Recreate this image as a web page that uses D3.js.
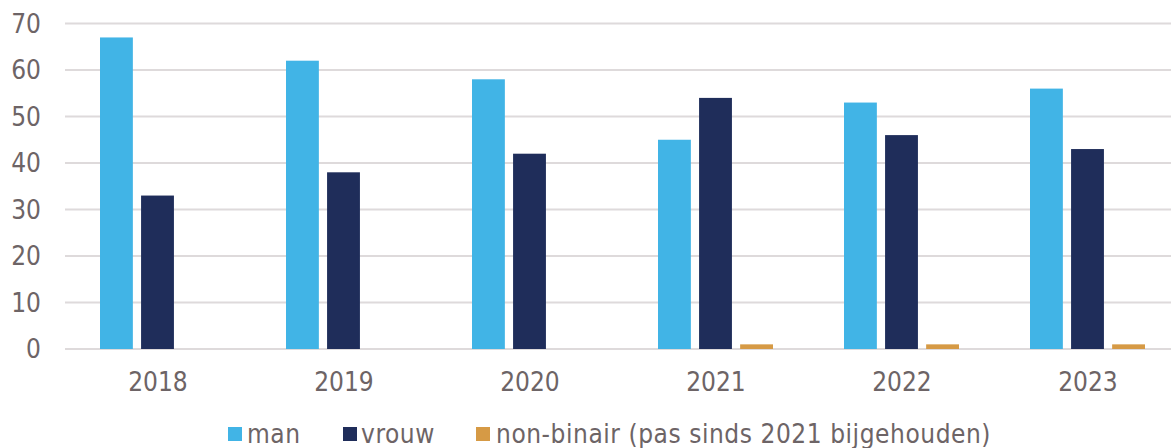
<!DOCTYPE html>
<html>
<head>
<meta charset="utf-8">
<script src="https://cdn.jsdelivr.net/npm/d3@7"></script>
<style>
  html, body { margin: 0; padding: 0; background: #fff; }
  svg { display: block; font-family: "DejaVu Sans Condensed", "DejaVu Sans", Verdana, sans-serif; }
</style>
</head>
<body>
<svg id="chart" width="1171" height="448"></svg>
<script>
const years = ["2018", "2019", "2020", "2021", "2022", "2023"];
const man = [67, 62, 58, 45, 53, 56];
const vrouw = [33, 38, 42, 54, 46, 43];
const nonBinair = [0, 0, 0, 1, 1, 1];
const seriesNames = ["man", "vrouw", "non-binair (pas sinds 2021 bijgehouden)"];
const seriesColors = ["#41b4e6", "#1f2d5a", "#d69a45"];
const yTicks = [0, 10, 20, 30, 40, 50, 60, 70];

const svg = d3.select("#chart");
const margin = { left: 65, top: 23.5, bottom: 349 };
const textColor = "#6d6466";
const fontSize = 26;

const x = d3.scaleBand().domain(years).range([margin.left, margin.left + 186 * 6]);
const y = d3.scaleLinear().domain([0, 70]).range([margin.bottom, margin.top]);

// horizontal gridlines
svg.append("g")
  .selectAll("line")
  .data(yTicks)
  .join("line")
  .attr("x1", margin.left)
  .attr("x2", 1171)
  .attr("y1", d => y(d))
  .attr("y2", d => y(d))
  .attr("stroke", "#dedadb")
  .attr("stroke-width", 2);

// y tick labels
svg.append("g")
  .selectAll("text")
  .data(yTicks)
  .join("text")
  .attr("x", 41)
  .attr("y", d => y(d))
  .attr("dy", "0.36em")
  .attr("text-anchor", "end")
  .attr("font-size", fontSize)
  .attr("fill", textColor)
  .text(d => d);

// bars within each year
const inner = d3.scaleBand().domain([0, 1, 2]).range([35, 186 - 36]).paddingInner(0.2);
const series = [man, vrouw, nonBinair];
series.forEach((vals, si) => {
  svg.append("g")
    .selectAll("rect")
    .data(years.map((yr, i) => ({ yr, v: vals[i] })))
    .join("rect")
    .attr("x", d => x(d.yr) + inner(si))
    .attr("width", inner.bandwidth())
    .attr("y", d => y(d.v))
    .attr("height", d => y(0) - y(d.v))
    .attr("fill", seriesColors[si]);
});

// x labels
svg.append("g")
  .selectAll("text")
  .data(years)
  .join("text")
  .attr("x", d => x(d) + x.bandwidth() / 2)
  .attr("y", 391)
  .attr("text-anchor", "middle")
  .attr("font-size", fontSize)
  .attr("fill", textColor)
  .text(d => d);

// legend
const swatchX = [228, 343, 476];
const labelX = [247, 361, 496];
const legend = svg.append("g");
seriesNames.forEach((name, i) => {
  legend.append("rect")
    .attr("x", swatchX[i])
    .attr("y", 427)
    .attr("width", 14)
    .attr("height", 14)
    .attr("fill", seriesColors[i]);
  legend.append("text")
    .attr("x", labelX[i])
    .attr("y", 443)
    .attr("font-size", fontSize)
    .attr("letter-spacing", 0.55)
    .attr("fill", textColor)
    .text(name);
});
</script>
</body>
</html>
